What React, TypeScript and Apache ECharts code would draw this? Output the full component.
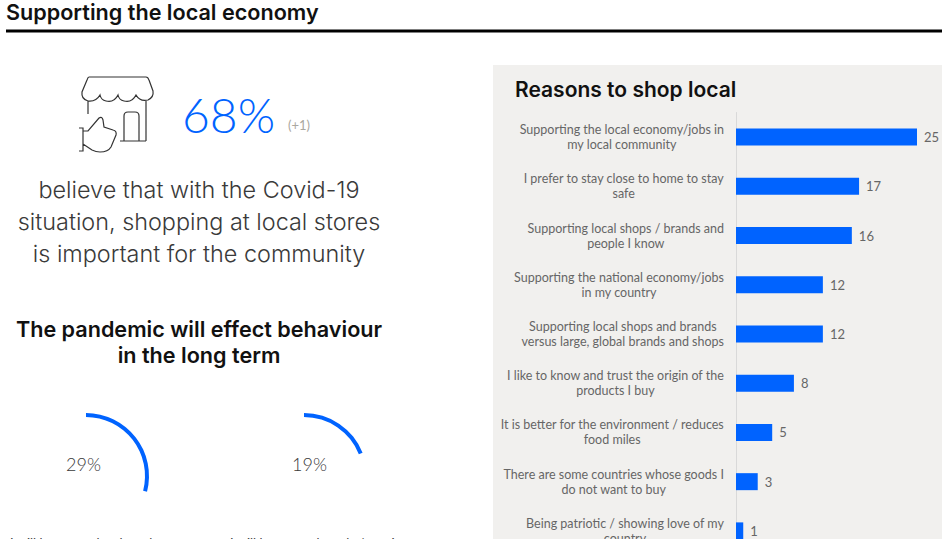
import React, { useEffect, useRef } from "react";
import * as echarts from "echarts";

const pageTitle = "Supporting the local economy";
const headlineValue = 68;
const headlineChange = "(+1)";
const headlineText = [
  "believe that with the Covid-19",
  "situation, shopping at local stores",
  "is important for the community",
];
const behaviourTitle = ["The pandemic will effect behaviour", "in the long term"];
const behaviourValues = [29, 19];
const behaviourLabels = ["I will buy more local products", "I will buy more brands / services"];
const reasonsTitle = "Reasons to shop local";
const reasons = [
  "Supporting the local economy/jobs in\nmy local community",
  "I prefer to stay close to home to stay\nsafe",
  "Supporting local shops / brands and\npeople I know",
  "Supporting the national economy/jobs\nin my country",
  "Supporting local shops and brands\nversus large, global brands and shops",
  "I like to know and trust the origin of the\nproducts I buy",
  "It is better for the environment / reduces\nfood miles",
  "There are some countries whose goods I\ndo not want to buy",
  "Being patriotic / showing love of my\ncountry",
];
const reasonValues = [25, 17, 16, 12, 12, 8, 5, 3, 1];

const BLUE = "#0063ff";
const FONT = "Lato";
const HEAD_FONT = "Inter";
const INK = "#3a3a3a";
const MUTED = "#666666";

// Shop front with a thumbs-up hand, outlined in page coordinates.
const SHOP_ICON =
  "M89 77 L146 77 Q148 77 149 80 L153 91 Q154 97 148 100 Q140 102 136 95 Q132 103 124 101 Q119 100 118 95 " +
  "Q114 103 106 101 Q101 100 100 95 Q96 102 88 101 Q81 99 82 92 L87 80 Q88 77 89 77 Z " +
  "M88 101 L88 114 M146 101 L146 141 M120 141 L146 141 " +
  "M124 141 L124 116 Q124 112 128 112 L135 112 Q139 112 139 116 L139 141 " +
  "M79 128 L83 128 L83 151 L79 151 M83 131 L88 131 L99 118 Q102 116 103 120 L104 127 L113 130 Q117 131 116 135 " +
  "L111 147 Q108 152 100 152 Q96 152 92 150 L83 144";

echarts.graphic.registerShape("shopIcon", echarts.graphic.extendPath(SHOP_ICON, {}));

const text = (
  x: number,
  y: number,
  value: string,
  fontSize: number,
  fill: string,
  fontWeight: number | string = 400,
  align: string = "center",
  fontFamily: string = FONT,
) => ({
  type: "text",
  x,
  y,
  z: 5,
  silent: true,
  style: { text: value, x: 0, y: 0, fontFamily, fontSize, fontWeight, fill, textAlign: align, textVerticalAlign: "middle" },
});

export default function App() {
  const ref = useRef<HTMLDivElement>(null);

  useEffect(() => {
    const chart = echarts.init(ref.current!, null, { renderer: "svg" });
    const centers = [86, 304];
    chart.setOption({
      animation: false,
      backgroundColor: "#ffffff",
      graphic: [
        { type: "rect", z: -1, silent: true, shape: { x: 493, y: 65, width: 449, height: 474 }, style: { fill: "#f1f0ee" } },
        { type: "rect", z: 5, silent: true, shape: { x: 6, y: 29.5, width: 936, height: 3 }, style: { fill: "#000000" } },
        text(6, 12, pageTitle, 21.6, "#111111", 600, "left", HEAD_FONT),
        { type: "shopIcon", x: 0, y: 0, z: 5, silent: true, style: { fill: "none", stroke: "#333333", lineWidth: 1.2 } },
        text(182, 114, `${headlineValue}%`, 48, BLUE, 300, "left"),
        text(288, 125, headlineChange, 13, "#aaa8a0", 400, "left"),
        ...headlineText.map((line, i) => text(199, 189 + i * 32, line, 23.4, INK, 300, "center", HEAD_FONT)),
        ...behaviourTitle.map((line, i) => text(199, 329 + i * 26, line, 21.6, "#111111", 600, "center", HEAD_FONT)),
        text(83.5, 464, `${behaviourValues[0]}%`, 18, INK, 300),
        text(309.5, 464, `${behaviourValues[1]}%`, 18, INK, 300),
        text(10, 543, behaviourLabels[0], 13, INK, 400, "left"),
        text(230, 543, behaviourLabels[1], 13, INK, 400, "left"),
        text(515, 89, reasonsTitle, 21, "#111111", 600, "left", HEAD_FONT),
      ],
      grid: { left: 736, top: 112.5, width: 181, height: 443, containLabel: false, outerBoundsMode: "none" },
      xAxis: { type: "value", min: 0, max: 25, show: false },
      yAxis: {
        type: "category",
        data: reasons,
        inverse: true,
        axisTick: { show: false },
        axisLine: { show: true, lineStyle: { color: "#d9d9d9", width: 1 } },
        axisLabel: {
          margin: 12,
          interval: 0,
          align: "right",
          lineHeight: 15,
          formatter: (value: string) =>
            value
              .split("\n")
              .map((line) => `{line|${line}}`)
              .join("\n"),
          rich: {
            line: { align: "center", fontFamily: FONT, fontSize: 12.5, lineHeight: 15, color: MUTED },
          },
        },
      },
      series: [
        {
          type: "bar",
          data: reasonValues,
          barWidth: 17,
          silent: true,
          itemStyle: { color: BLUE },
          label: {
            show: true,
            position: "right",
            distance: 7,
            fontFamily: FONT,
            fontSize: 13,
            color: MUTED,
          },
        },
        ...behaviourValues.map((value, i) => ({
          type: "pie",
          center: [centers[i], 476],
          radius: [59, 63],
          startAngle: 90,
          clockwise: true,
          silent: true,
          label: { show: false },
          labelLine: { show: false },
          data: [
            { value, itemStyle: { color: BLUE } },
            { value: 100 - value, itemStyle: { color: "transparent" } },
          ],
        })),
      ],
    });
    return () => chart.dispose();
  }, []);

  return <div ref={ref} style={{ position: "absolute", left: 0, top: 0, width: 942, height: 539 }} />;
}
